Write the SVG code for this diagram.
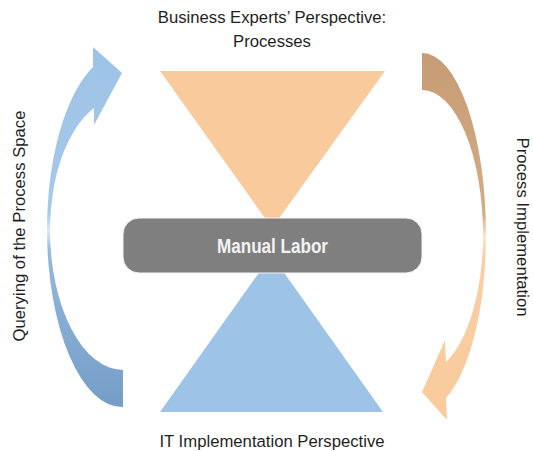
<svg xmlns="http://www.w3.org/2000/svg" width="533" height="451" viewBox="0 0 533 451">
  <defs>
    <linearGradient id="gradQuery" gradientUnits="userSpaceOnUse" x1="0" y1="47" x2="0" y2="408">
      <stop offset="0" stop-color="#9DC3E6"/>
      <stop offset="0.46" stop-color="#A6C9EA"/>
      <stop offset="0.51" stop-color="#DCE9F6"/>
      <stop offset="0.56" stop-color="#96B9DD"/>
      <stop offset="1" stop-color="#749DC7"/>
    </linearGradient>
    <linearGradient id="gradImpl" gradientUnits="userSpaceOnUse" x1="0" y1="53" x2="0" y2="420">
      <stop offset="0" stop-color="#C69C74"/>
      <stop offset="0.44" stop-color="#D4AC85"/>
      <stop offset="0.5" stop-color="#FAE6D2"/>
      <stop offset="0.56" stop-color="#F8CEA3"/>
      <stop offset="1" stop-color="#F9CB9C"/>
    </linearGradient>
  </defs>
  <style>
    .label { font-family: "Liberation Sans", Arial, sans-serif; font-size: 16.7px; fill: #1f1f1f; }
    .center { font-family: "Liberation Sans", Arial, sans-serif; font-size: 19.5px; font-weight: bold; fill: #f2f2f2; }
  </style>

  <!-- Top perspective: inverted triangle -->
  <g id="business-perspective">
    <polygon points="160,71 385,71 272,228" fill="#F9CB9C"/>
    <text class="label" x="272" y="23" text-anchor="middle">Business Experts’ Perspective:</text>
    <text class="label" x="272" y="47" text-anchor="middle">Processes</text>
  </g>

  <!-- Bottom perspective: upright triangle -->
  <g id="it-perspective">
    <polygon points="160,412 383,412 271.5,255" fill="#9DC3E6"/>
    <text class="label" x="272" y="447" text-anchor="middle">IT Implementation Perspective</text>
  </g>

  <!-- Central box -->
  <g id="manual-labor">
    <rect x="123" y="218" width="299" height="55" rx="16" ry="16" fill="#7F7F7F" stroke="#f4f4f4" stroke-width="1"/>
    <text class="center" x="272.5" y="253" text-anchor="middle" textLength="111" lengthAdjust="spacingAndGlyphs">Manual Labor</text>
  </g>

  <!-- Curved arrows -->
  <g id="connectors">
    <path d="M93,67 L93,47 L122,73 L94,125 L94,108 A72,132 0 0 0 50,230 A73,140 0 0 0 123,370 L123,407 A75,178 0 0 1 47,230 A75,177 0 0 1 93,67 Z" fill="url(#gradQuery)"/>
    <path d="M422,53 A64,182 0 0 1 486,235 A64,176 0 0 1 446,398 L447,420 L422,392 L445,340 L446,362 A61,138 0 0 0 483,235 A61,145 0 0 0 422,90 Z" fill="url(#gradImpl)"/>
  </g>

  <!-- Side labels -->
  <g id="query-label">
    <text class="label" transform="translate(25,226) rotate(-90)" text-anchor="middle">Querying of the Process Space</text>
  </g>
  <g id="implementation-label">
    <text class="label" transform="translate(517,227) rotate(90)" text-anchor="middle">Process Implementation</text>
  </g>
</svg>
